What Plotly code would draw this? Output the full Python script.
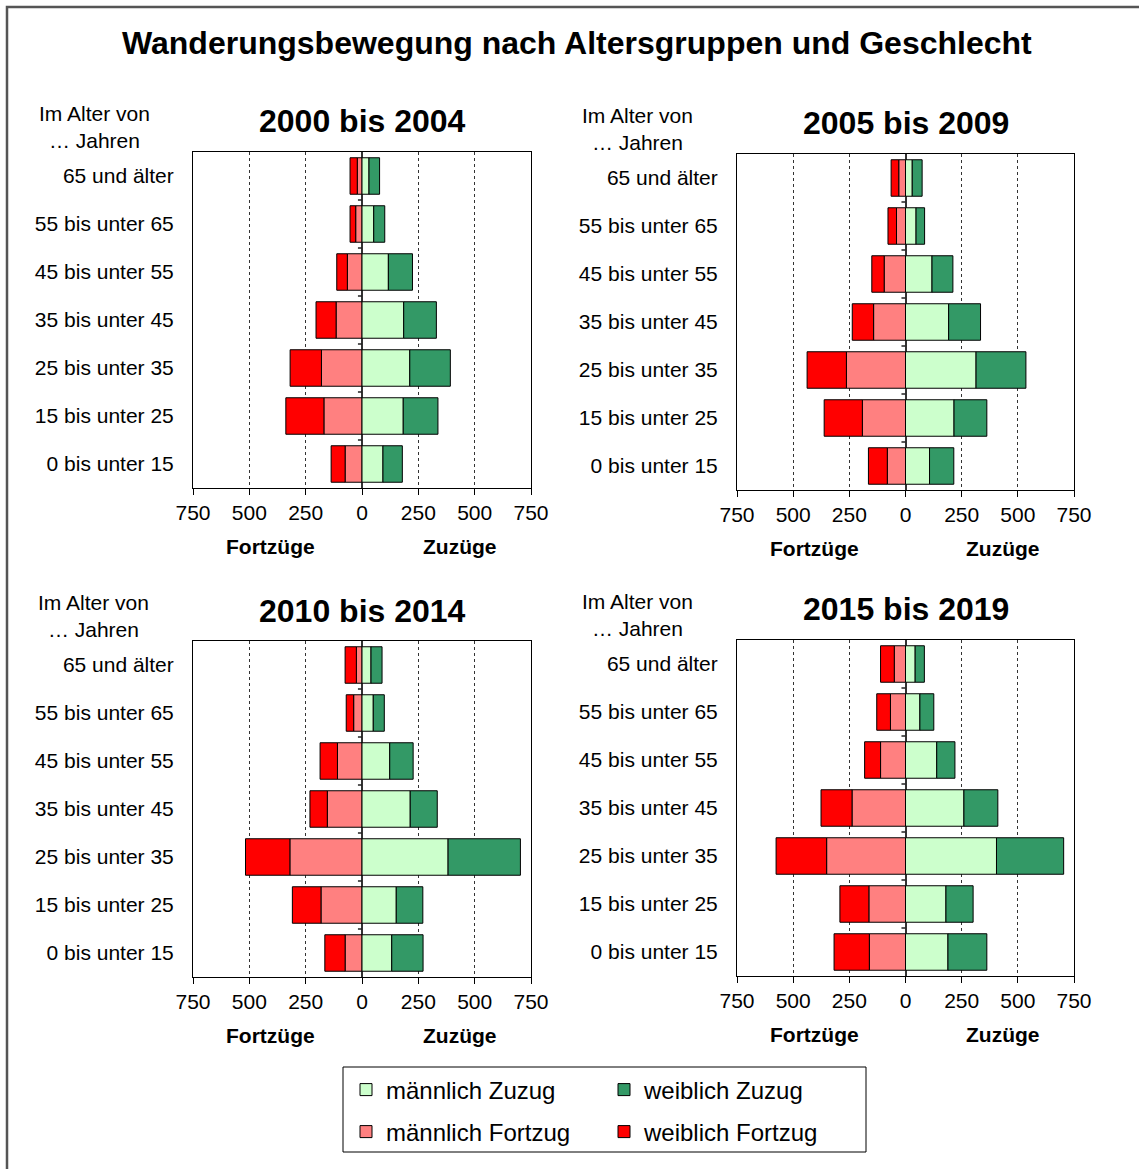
import plotly.graph_objects as go

W, H = 1139, 1169
FONT = "Liberation Sans, Arial, sans-serif"

# ---------------- data ----------------
age_groups = ["0 bis unter 15", "15 bis unter 25", "25 bis unter 35", "35 bis unter 45",
              "45 bis unter 55", "55 bis unter 65", "65 und älter"]
periods = ["2000 bis 2004", "2005 bis 2009", "2010 bis 2014", "2015 bis 2019"]

# values per age group (bottom -> top)
maennlich_zuzug_2000 = [93, 183, 212, 185, 117, 52, 31]
weiblich_zuzug_2000 = [86, 154, 180, 145, 107, 49, 47]
maennlich_fortzug_2000 = [75, 169, 180, 115, 65, 28, 21]
weiblich_fortzug_2000 = [62, 169, 139, 89, 47, 25, 32]

maennlich_zuzug_2005 = [107, 216, 314, 192, 118, 47, 30]
weiblich_zuzug_2005 = [108, 146, 222, 142, 93, 38, 44]
maennlich_fortzug_2005 = [81, 192, 263, 142, 95, 40, 30]
weiblich_fortzug_2005 = [84, 170, 175, 95, 55, 38, 34]

maennlich_zuzug_2010 = [132, 152, 382, 214, 123, 50, 40]
weiblich_zuzug_2010 = [139, 118, 321, 120, 104, 49, 49]
maennlich_fortzug_2010 = [75, 182, 320, 154, 109, 37, 25]
weiblich_fortzug_2010 = [90, 127, 197, 77, 77, 33, 50]

maennlich_zuzug_2015 = [189, 180, 405, 260, 139, 64, 43]
weiblich_zuzug_2015 = [173, 121, 299, 151, 81, 62, 41]
maennlich_fortzug_2015 = [161, 163, 351, 238, 111, 67, 50]
weiblich_fortzug_2015 = [157, 129, 225, 138, 71, 61, 61]

x_tickvals = [-750, -500, -250, 0, 250, 500, 750]
x_ticktext = ["750", "500", "250", "0", "250", "500", "750"]

series_names = ["männlich Fortzug", "weiblich Fortzug", "männlich Zuzug", "weiblich Zuzug"]
colors = {"männlich Zuzug": "#CCFFCC", "weiblich Zuzug": "#339966",
          "männlich Fortzug": "#FF8080", "weiblich Fortzug": "#FF0000"}

panel_data = [
    (maennlich_fortzug_2000, weiblich_fortzug_2000, maennlich_zuzug_2000, weiblich_zuzug_2000),
    (maennlich_fortzug_2005, weiblich_fortzug_2005, maennlich_zuzug_2005, weiblich_zuzug_2005),
    (maennlich_fortzug_2010, weiblich_fortzug_2010, maennlich_zuzug_2010, weiblich_zuzug_2010),
    (maennlich_fortzug_2015, weiblich_fortzug_2015, maennlich_zuzug_2015, weiblich_zuzug_2015),
]

# ---------------- layout geometry (pixels) ----------------
def px(x):
    return x / W

def py(y):
    return 1 - y / H

# plot boxes: (left, right, top, bottom), subtitle y, "Im Alter" x/y, axis-label y
panels = [
    dict(box=(193, 531, 152, 488), sub_y=121, age_x=94, age_y=127, lab_y=546),
    dict(box=(737, 1074, 154, 490), sub_y=123, age_x=637, age_y=129, lab_y=548),
    dict(box=(193, 531, 641, 977), sub_y=611, age_x=93, age_y=616, lab_y=1035),
    dict(box=(737, 1074, 640, 976), sub_y=609, age_x=637, age_y=615, lab_y=1034),
]

fig = go.Figure()
layout = dict(
    width=W, height=H, margin=dict(l=0, r=0, t=0, b=0, autoexpand=False),
    paper_bgcolor="white", plot_bgcolor="white",
    barmode="relative", bargap=0.24,
    font=dict(family=FONT, color="black", size=21),
    showlegend=True,
)
annotations = []
shapes = []

legend_ids = {"männlich Zuzug": "legend", "weiblich Zuzug": "legend2",
              "männlich Fortzug": "legend3", "weiblich Fortzug": "legend4"}

for i, (pan, period, vals) in enumerate(zip(panels, periods, panel_data)):
    n = "" if i == 0 else str(i + 1)
    xa, ya = "x" + n, "y" + n
    l, r, t, b = pan["box"]
    for name, v in zip(series_names, vals):
        sign = -1 if "Fortzug" in name else 1
        fig.add_trace(go.Bar(
            x=[sign * val for val in v], y=age_groups, orientation="h",
            name=name, xaxis=xa, yaxis=ya,
            marker=dict(color=colors[name], line=dict(color="black", width=1)),
            showlegend=(i == 0), legend=legend_ids[name],
            hovertemplate=name + ": %{customdata}<extra></extra>", customdata=v,
        ))
    layout["xaxis" + n] = dict(
        domain=[px(l), px(r)], anchor=ya, range=[-750, 750], automargin=False,
        tickvals=x_tickvals, ticktext=x_ticktext, tickfont=dict(size=21),
        ticks="outside", ticklen=6, tickcolor="black",
        showline=True, linecolor="black", linewidth=1, mirror=True,
        showgrid=True, gridcolor="#333333", griddash="dot", gridwidth=1,
        zeroline=True, zerolinecolor="#333333", zerolinewidth=1.5,
        fixedrange=True,
    )
    layout["yaxis" + n] = dict(
        domain=[py(b), py(t)], anchor=xa, range=[-0.5, 6.5], automargin=False,
        type="category", categoryorder="array", categoryarray=age_groups,
        tickfont=dict(size=21), ticks="", ticklabelstandoff=14,
        showline=True, linecolor="black", linewidth=1, mirror=True,
        showgrid=False, zeroline=False, fixedrange=True,
    )
    # small tick marks at the zero line between categories
    for k in range(len(age_groups) - 1):
        shapes.append(dict(type="line", xref=xa, yref=ya, x0=-18, x1=0,
                           y0=k + 0.5, y1=k + 0.5, line=dict(color="#222222", width=1.5)))
    cx = (l + r) / 2
    annotations.append(dict(text="<b>%s</b>" % period, x=px(cx), y=py(pan["sub_y"]),
                            xref="paper", yref="paper", showarrow=False,
                            xanchor="center", yanchor="middle", font=dict(size=32)))
    annotations.append(dict(text="Im Alter von<br>… Jahren", x=px(pan["age_x"]), y=py(pan["age_y"]),
                            xref="paper", yref="paper", showarrow=False, align="center",
                            xanchor="center", yanchor="middle", font=dict(size=21)))
    scale = (r - l) / 1500.0
    zero_px = (l + r) / 2
    annotations.append(dict(text="<b>Fortzüge</b>", x=px(zero_px - 405 * scale), y=py(pan["lab_y"]),
                            xref="paper", yref="paper", showarrow=False,
                            xanchor="center", yanchor="middle", font=dict(size=21)))
    annotations.append(dict(text="<b>Zuzüge</b>", x=px(zero_px + 435 * scale), y=py(pan["lab_y"]),
                            xref="paper", yref="paper", showarrow=False,
                            xanchor="center", yanchor="middle", font=dict(size=21)))

annotations.append(dict(text="<b>Wanderungsbewegung nach Altersgruppen und Geschlecht</b>",
                        x=px(577), y=py(43), xref="paper", yref="paper", showarrow=False,
                        xanchor="center", yanchor="middle", font=dict(size=32)))

# legends: four single-entry legends arranged in a 2x2 grid
leg_pos = {"legend": (346, 1090), "legend2": (604, 1090),
           "legend3": (346, 1132), "legend4": (604, 1132)}
for lid, (lx, ly) in leg_pos.items():
    layout[lid] = dict(x=px(lx), y=py(ly), xanchor="left", yanchor="middle",
                       bgcolor="rgba(0,0,0,0)", borderwidth=0,
                       font=dict(size=24, family=FONT, color="black"),
                       itemclick=False, itemdoubleclick=False)

# legend frame
shapes.append(dict(type="rect", xref="paper", yref="paper",
                   x0=px(343), x1=px(866), y0=py(1067), y1=py(1152),
                   line=dict(color="black", width=1), layer="below"))
# outer chart frame (extends past the right/bottom edge of the picture)
shapes.append(dict(type="rect", xref="paper", yref="paper",
                   x0=px(7), x1=px(1150), y0=py(1180), y1=py(7),
                   line=dict(color="#555555", width=2.5), layer="below"))

layout["annotations"] = annotations
layout["shapes"] = shapes
fig.update_layout(**layout)
fig.write_html("out.html", config={"displayModeBar": False},
               post_script="document.body.style.margin='0';document.body.style.overflow='hidden';")
